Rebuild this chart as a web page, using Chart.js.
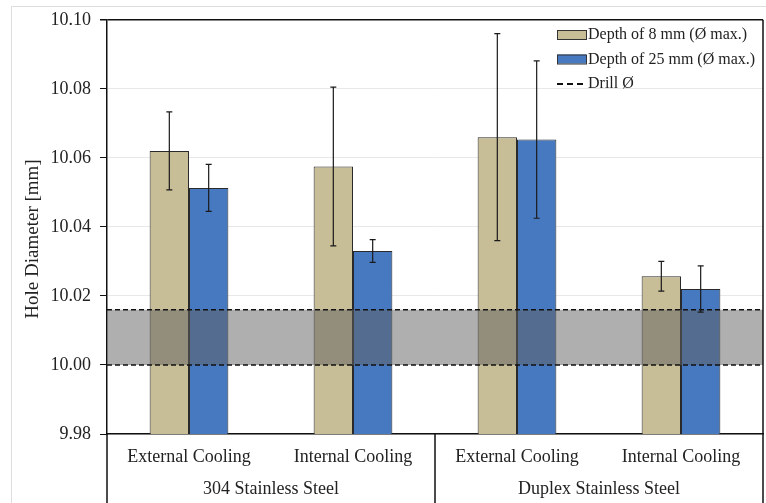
<!DOCTYPE html>
<html>
<head>
<meta charset="utf-8">
<script src="https://cdn.jsdelivr.net/npm/chart.js@4/dist/chart.umd.min.js"></script>
<style>
  html, body { margin: 0; padding: 0; background: #fff; }
  #wrap { width: 766px; height: 503px; }
</style>
</head>
<body>
<div id="wrap"><canvas id="chart" width="766" height="503"></canvas></div>
<script>
// data
const categories = ["External Cooling", "Internal Cooling", "External Cooling", "Internal Cooling"];
const groups = ["304 Stainless Steel", "Duplex Stainless Steel"];
const seriesNames = ["Depth of 8 mm (Ø max.)", "Depth of 25 mm (Ø max.)"];
const depth8 = [10.062, 10.0575, 10.066, 10.0257];
const depth8Err = [0.0113, 0.023, 0.030, 0.0043];
const depth25 = [10.0513, 10.033, 10.0653, 10.022];
const depth25Err = [0.0068, 0.0033, 0.0228, 0.0067];
const drillLabel = "Drill Ø";
const drillRange = [10.000, 10.016];
const yTicks = [9.98, 10.00, 10.02, 10.04, 10.06, 10.08, 10.10];
const yTitle = "Hole Diameter [mm]";

const serif = "'Liberation Serif', 'Times New Roman', serif";
const colors = ["#c7bd97", "#4679c0"];
const errs = [depth8Err, depth25Err];

const extras = {
    id: "extras",
    beforeDraw(chart) {
        const c = chart.ctx;
        c.save();
        c.strokeStyle = "#dedede";
        c.lineWidth = 1;
        c.strokeRect(11.5, 6.5, 760, 510);
        c.restore();
    },
    afterDatasetsDraw(chart) {
        const c = chart.ctx;
        const a = chart.chartArea;
        const y = chart.scales.y;
        const x = chart.scales.x;
        const y0 = y.getPixelForValue(drillRange[0]);
        const y1 = y.getPixelForValue(drillRange[1]);
        c.save();

        // drill tolerance band
        c.fillStyle = "rgba(95,95,95,0.5)";
        c.fillRect(a.left, y1, a.right - a.left, y0 - y1);
        c.strokeStyle = "#111";
        c.lineWidth = 1.5;
        c.setLineDash([5, 3]);
        [y0, y1].forEach(py => {
            c.beginPath();
            c.moveTo(a.left, py);
            c.lineTo(a.right, py);
            c.stroke();
        });
        c.setLineDash([]);

        // error bars
        c.strokeStyle = "#1a1a1a";
        c.lineWidth = 1.2;
        chart.data.datasets.forEach((ds, i) => {
            const meta = chart.getDatasetMeta(i);
            meta.data.forEach((bar, j) => {
                const hi = y.getPixelForValue(ds.data[j] + errs[i][j]);
                const lo = y.getPixelForValue(ds.data[j] - errs[i][j]);
                c.beginPath();
                c.moveTo(bar.x, hi); c.lineTo(bar.x, lo);
                c.moveTo(bar.x - 3, hi); c.lineTo(bar.x + 3, hi);
                c.moveTo(bar.x - 3, lo); c.lineTo(bar.x + 3, lo);
                c.stroke();
            });
        });

        // right border and group separators
        c.strokeStyle = "#111";
        c.lineWidth = 1.5;
        c.beginPath();
        c.moveTo(a.right, a.top); c.lineTo(a.right, chart.height);
        c.moveTo(a.left, a.bottom); c.lineTo(a.left, chart.height);
        const mid = (x.getPixelForValue(1) + x.getPixelForValue(2)) / 2;
        c.moveTo(mid, a.bottom); c.lineTo(mid, chart.height);
        c.stroke();

        // group labels
        c.fillStyle = "#222";
        c.font = "18px " + serif;
        c.textAlign = "center";
        c.textBaseline = "middle";
        groups.forEach((g, k) => {
            const gx = (x.getPixelForValue(2 * k) + x.getPixelForValue(2 * k + 1)) / 2;
            c.fillText(g, gx, a.bottom + 55);
        });

        // y axis title
        c.save();
        c.translate(33, 239);
        c.rotate(-Math.PI / 2);
        c.font = "19px " + serif;
        c.fillText(yTitle, 0, 0);
        c.restore();

        // legend
        c.font = "16px " + serif;
        c.textAlign = "left";
        const lx = 557, ly = 34, step = 24.5;
        seriesNames.forEach((n, i) => {
            const yy = ly + i * step;
            c.fillStyle = colors[i];
            c.fillRect(lx, yy - 4, 29, 9);
            c.strokeStyle = "#333";
            c.lineWidth = 1;
            c.strokeRect(lx + 0.5, yy - 4 + 0.5, 29, 9);
            c.fillStyle = "#222";
            c.fillText(n, lx + 31, yy + 1);
        });
        const yy = ly + 2 * step;
        c.strokeStyle = "#111";
        c.lineWidth = 2;
        c.setLineDash([6, 4]);
        c.beginPath();
        c.moveTo(lx, yy + 1); c.lineTo(lx + 30, yy + 1);
        c.stroke();
        c.setLineDash([]);
        c.fillText(drillLabel, lx + 31, yy + 1);

        c.restore();
    }
};

const ctx = document.getElementById("chart").getContext("2d");
new Chart(ctx, {
    type: "bar",
    data: {
        labels: categories,
        datasets: [
            { label: seriesNames[0], data: depth8, backgroundColor: colors[0], borderColor: "#2a2a2a", borderWidth: 1 },
            { label: seriesNames[1], data: depth25, backgroundColor: colors[1], borderColor: "#2a2a2a", borderWidth: 1 }
        ]
    },
    options: {
        responsive: false,
        animation: false,
        layout: { padding: { top: 19, right: 3, bottom: 0, left: 0 } },
        plugins: { legend: { display: false }, tooltip: { enabled: false } },
        datasets: { bar: { categoryPercentage: 0.48, barPercentage: 1 } },
        scales: {
            x: {
                grid: { display: false, drawTicks: false },
                border: { display: true, color: "#111", width: 1.5 },
                ticks: { color: "#222", font: { family: serif, size: 18 }, padding: 12, maxRotation: 0 },
                afterFit: s => { s.height = 69; }
            },
            y: {
                min: yTicks[0],
                max: yTicks[yTicks.length - 1],
                afterBuildTicks: s => { s.ticks = yTicks.map(v => ({ value: v })); },
                grid: {
                    color: t => t.tick && Math.abs(t.tick.value - 10.10) < 1e-6 ? "#111" : "#e8e8e8",
                    lineWidth: t => t.tick && Math.abs(t.tick.value - 10.10) < 1e-6 ? 1.5 : 1,
                    tickColor: "#111",
                    tickLength: 7
                },
                border: { display: true, color: "#111", width: 1.5 },
                ticks: {
                    color: "#222",
                    font: { family: serif, size: 18 },
                    padding: 9,
                    callback: v => Number(v).toFixed(2)
                },
                afterFit: s => { s.width = 107; }
            }
        }
    },
    plugins: [extras]
});
</script>
</body>
</html>
